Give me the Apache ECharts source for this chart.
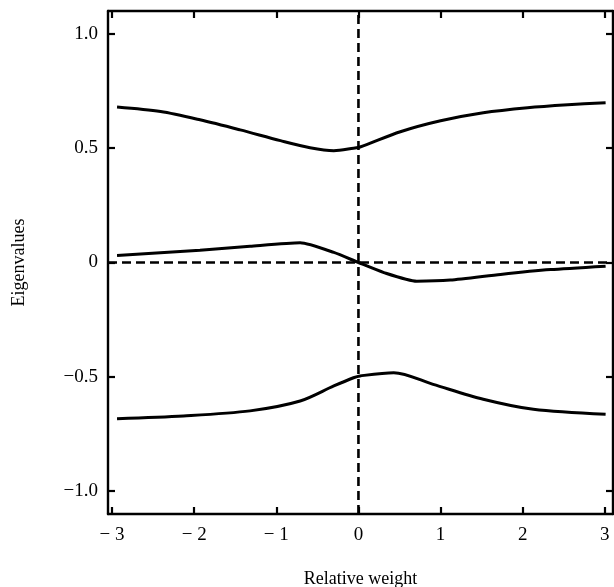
<!DOCTYPE html>
<html><head><meta charset="utf-8">
<script src="https://cdn.jsdelivr.net/npm/echarts@6/dist/echarts.min.js"></script>
<style>html,body{margin:0;padding:0;background:#fff}#c{width:614px;height:587px}</style>
</head><body><div id="c"></div>
<script>
// Data
var upperX = [-2.94,-2.41,-1.93,-1.44,-0.95,-0.59,-0.30,-0.06,0.02,0.51,1.0,1.52,2.06,2.55,3.01];
var upperY = [0.68,0.66,0.624,0.58,0.533,0.502,0.489,0.5,0.505,0.572,0.62,0.655,0.677,0.69,0.699];
var middleX = [-2.94,-1.93,-1.32,-0.71,-0.30,0,0.31,0.71,1.12,1.73,2.34,3.01];
var middleY = [0.031,0.054,0.071,0.086,0.044,0,-0.044,-0.082,-0.077,-0.052,-0.031,-0.016];
var lowerX = [-2.94,-2.13,-1.32,-0.71,-0.30,-0.06,0.02,0.43,0.91,1.52,2.13,3.01];
var lowerY = [-0.683,-0.671,-0.649,-0.606,-0.54,-0.504,-0.496,-0.482,-0.533,-0.598,-0.642,-0.664];
var xTicks = [-3,-2,-1,0,1,2,3];
var yTicks = [-1.0,-0.5,0,0.5,1.0];
var xLabel = 'Relative weight';
var yLabel = 'Eigenvalues';
var xMin = -3.05, xMax = 3.1, yMin = -1.1, yMax = 1.1;

function pairs(xs, ys){ return xs.map(function(x,i){return [x, ys[i]];}); }
function fmtX(v){ v = Math.round(v); return v < 0 ? '\u2212 ' + Math.abs(v) : String(v); }
function fmtY(v){ if (Math.abs(v) < 1e-9) return '0'; return (v < 0 ? '\u2212' : '') + Math.abs(v).toFixed(1); }

var FONT = 'Liberation Serif';
var axisLine = {show:true, onZero:false, lineStyle:{color:'#000', width:2.4}};
var tickStyle = {color:'#000', width:2.2};

var curveStyle = {color:'#000', width:3};
var dashStyle = {color:'#000', width:2.6, type:[9,5]};

var chart = echarts.init(document.getElementById('c'), null, {renderer:'canvas'});
chart.setOption({
  animation:false,
  backgroundColor:'#fff',
  grid:{left:108, right:1, top:11, bottom:73, containLabel:false, outerBoundsMode:'none'},
  xAxis:[{
    type:'value', min:xMin, max:xMax, position:'bottom',
    axisLine:axisLine,
    axisTick:{show:true, inside:true, length:7, lineStyle:tickStyle, customValues:xTicks},
    axisLabel:{show:true, customValues:xTicks, formatter:fmtX, color:'#000', fontFamily:FONT, fontSize:19, margin:12},
    splitLine:{show:false},
    name:xLabel, nameLocation:'middle', nameGap:56,
    nameTextStyle:{color:'#000', fontFamily:FONT, fontSize:18}
  },{
    type:'value', min:xMin, max:xMax, position:'top',
    axisLine:axisLine,
    axisTick:{show:true, inside:true, length:7, lineStyle:tickStyle, customValues:xTicks},
    axisLabel:{show:false}, splitLine:{show:false}
  }],
  yAxis:[{
    type:'value', min:yMin, max:yMax, position:'left',
    axisLine:axisLine,
    axisTick:{show:true, inside:true, length:7, lineStyle:tickStyle, customValues:yTicks},
    axisLabel:{show:true, customValues:yTicks, formatter:fmtY, color:'#000', fontFamily:FONT, fontSize:19, margin:10},
    splitLine:{show:false},
    name:yLabel, nameLocation:'middle', nameGap:80, nameRotate:90,
    nameTextStyle:{color:'#000', fontFamily:FONT, fontSize:18}
  },{
    type:'value', min:yMin, max:yMax, position:'right',
    axisLine:axisLine,
    axisTick:{show:true, inside:true, length:7, lineStyle:tickStyle, customValues:yTicks},
    axisLabel:{show:false}, splitLine:{show:false}
  }],
  series:[
    {type:'line', data:pairs(upperX, upperY), smooth:0.3, showSymbol:false, lineStyle:curveStyle},
    {type:'line', data:pairs(middleX, middleY), smooth:0.2, showSymbol:false, lineStyle:curveStyle},
    {type:'line', data:pairs(lowerX, lowerY), smooth:0.3, showSymbol:false, lineStyle:curveStyle},
    {type:'line', data:[[0,yMin],[0,yMax]], showSymbol:false, lineStyle:dashStyle},
    {type:'line', data:[[xMin,0],[xMax,0]], showSymbol:false, lineStyle:dashStyle}
  ]
});
</script></body></html>
